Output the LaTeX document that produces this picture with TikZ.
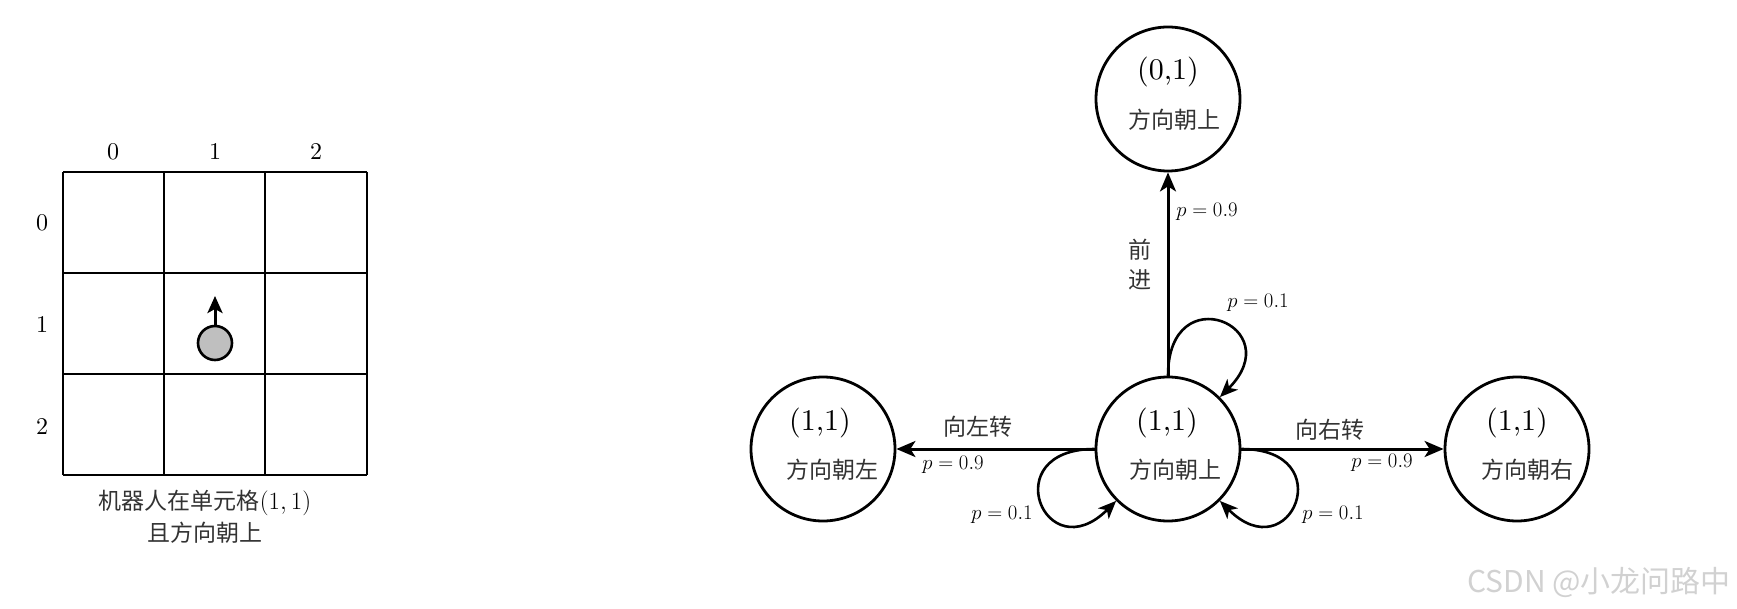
\documentclass[tikz,border=0pt]{standalone}
\usepackage{fontspec}
\newfontfamily\cjk{Noto Sans CJK SC}
\newfontfamily\lmten{lmroman10-regular.otf}
\usetikzlibrary{arrows.meta}
\begin{document}
\begin{tikzpicture}[x=1pt,y=1pt,
  gridline/.style={line width=1.9pt},
  gridlab/.style={font=\lmten\fontsize{24}{26}\selectfont, inner sep=0pt},
  robot/.style={draw, circle, line width=2.6pt, fill=black!25, minimum size=34pt, inner sep=0pt},
  robotarrow/.style={line width=3pt, -{Stealth[length=17pt,width=15pt,inset=4pt]}},
  capzh/.style={font=\cjk\fontsize{23}{25}\selectfont, text=black!80},
  state/.style={draw, circle, line width=2.8pt, minimum size=144pt, inner sep=0pt},
  num/.style={font=\lmten\fontsize{30}{32}\selectfont, inner sep=0pt},
  zh/.style={font=\cjk\fontsize{23}{26}\selectfont, text=black!80, inner sep=0pt},
  plab/.style={font=\fontsize{20}{22}\selectfont, inner sep=0pt},
  edgearrow/.style={line width=3pt, -{Stealth[length=19pt,width=16pt,inset=5pt]}},
  looparrow/.style={line width=2.6pt, -{Stealth[length=18pt,width=15pt,inset=5pt]}},
]
\useasboundingbox (0,0) rectangle (1737,-609);

% ---- grid ----
\foreach \x in {63,164,265,367} \draw[gridline] (\x,-172) -- (\x,-475);
\foreach \y in {172,273,374,475} \draw[gridline] (63,-\y) -- (367,-\y);
\node[gridlab] (c0) at (113,-152) {0};
\node[gridlab] (c1) at (215,-152) {1};
\node[gridlab] (c2) at (316,-152) {2};
\node[gridlab] (r0) at (42,-223) {0};
\node[gridlab] (r1) at (42,-325) {1};
\node[gridlab] (r2) at (42,-427) {2};
\node[robot] (robot) at (215,-343) {};
\coordinate (head) at (215,-296);
\draw[robotarrow] (robot.north) -- (head);
\node[inner sep=0pt] (cap1) at (205,-503) {{\cjk\fontsize{23}{25}\selectfont\color{black!80}机器人在单元格}{\fontsize{28}{30}\selectfont$(1,1)$}};
\node[capzh, inner sep=0pt] (cap2) at (205,-533) {且方向朝上};

% ---- states ----
\node[state] (C) at (1168,-449) {};
\node[state] (T) at (1168,-99) {};
\node[state] (L) at (823,-449) {};
\node[state] (R) at (1517,-449) {};

\node[num] (Cnum) at (1167,-423) {(1,1)};
\node[zh]  (Czh)  at (1175,-470) {方向朝上};
\node[num] (Tnum) at (1168,-72) {(0,1)};
\node[zh]  (Tzh)  at (1174,-120) {方向朝上};
\node[num] (Lnum) at (820,-423) {(1,1)};
\node[zh]  (Lzh)  at (832,-470) {方向朝左};
\node[num] (Rnum) at (1517,-423) {(1,1)};
\node[zh]  (Rzh)  at (1527,-470) {方向朝右};

% ---- edges ----
\draw[edgearrow] (C.north) -- (T.south);
\draw[edgearrow] (C.west) -- (L.east);
\draw[edgearrow] (C.east) -- (R.west);
\draw[looparrow] (C.north) to[out=90,in=45,distance=100pt] (C.45);
\draw[looparrow] (C.west) to[out=180,in=225,distance=100pt] (C.225);
\draw[looparrow] (C.east) to[out=0,in=-45,distance=100pt] (C.-45);

% ---- labels ----
\node[zh] (fwd1) at (1140,-250) {前};
\node[zh] (fwd2) at (1140,-280) {进};
\node[plab] (pT9) at (1207,-212) {$p=0.9$};
\node[plab] (pT1) at (1258,-303) {$p=0.1$};
\node[zh] (lt) at (978,-427) {向左转};
\node[plab] (pL9) at (953,-465) {$p=0.9$};
\node[plab] (pL1) at (1002,-515) {$p=0.1$};
\node[zh] (rt) at (1330,-430) {向右转};
\node[plab] (pR9) at (1382,-463) {$p=0.9$};
\node[plab] (pR1) at (1333,-515) {$p=0.1$};

% ---- watermark ----
\node[font=\cjk\fontsize{30}{32}\selectfont, text=black!18, anchor=east, inner sep=0pt] (wm) at (1731,-582) {CSDN @小龙问路中};
\end{tikzpicture}
\end{document}
